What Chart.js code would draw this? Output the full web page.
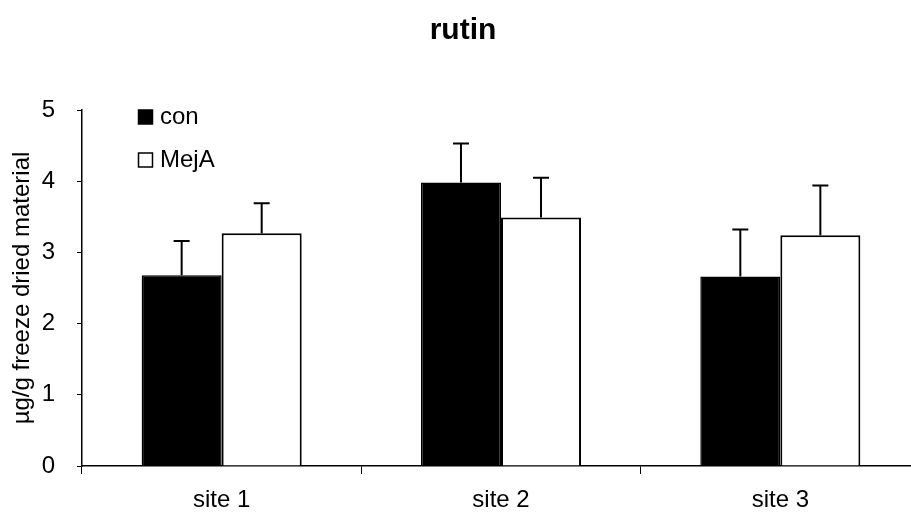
<!DOCTYPE html>
<html>
<head>
<meta charset="utf-8">
<script src="https://cdn.jsdelivr.net/npm/chart.js"></script>
<style>
  html, body { margin: 0; padding: 0; background: #fff; }
  #wrap { width: 911px; height: 512px; overflow: hidden; }
</style>
</head>
<body>
<div id="wrap"><canvas id="chart" width="925" height="512"></canvas></div>
<script>
// rutin content per site, control vs MejA
const categories = ['site 1', 'site 2', 'site 3'];
const conValues = [2.68, 3.98, 2.66];
const conErrors = [0.48, 0.55, 0.66];
const mejaValues = [3.27, 3.49, 3.24];
const mejaErrors = [0.42, 0.56, 0.70];
const seriesNames = ['con', 'MejA'];
const yTicks = [0, 1, 2, 3, 4, 5];

const FONT = '"Liberation Sans", Arial, sans-serif';

// error bars (upper only) drawn on top of each bar
const errorBars = {
    id: 'errorBars',
    afterDatasetsDraw(chart) {
        const ctx = chart.ctx;
        const yScale = chart.scales.y;
        ctx.save();
        ctx.strokeStyle = '#000';
        ctx.lineWidth = 2;
        chart.data.datasets.forEach((ds, i) => {
            const meta = chart.getDatasetMeta(i);
            meta.data.forEach((bar, j) => {
                const top = yScale.getPixelForValue(ds.data[j] + ds.errors[j]);
                ctx.beginPath();
                ctx.moveTo(bar.x, bar.y);
                ctx.lineTo(bar.x, top);
                ctx.moveTo(bar.x - 8, top);
                ctx.lineTo(bar.x + 8, top);
                ctx.stroke();
            });
        });
        ctx.restore();
    }
};

// title and the small legend in the top-left corner
const decorations = {
    id: 'decorations',
    afterDraw(chart) {
        const ctx = chart.ctx;
        ctx.save();
        ctx.fillStyle = '#000';
        ctx.font = 'bold 30px ' + FONT;
        ctx.textAlign = 'center';
        ctx.textBaseline = 'middle';
        ctx.fillText('rutin', 463, 31);

        ctx.font = '24px ' + FONT;
        ctx.textAlign = 'left';
        const rows = [117, 160];
        chart.data.datasets.forEach((ds, i) => {
            const y = rows[i];
            ctx.fillStyle = ds.backgroundColor;
            ctx.fillRect(138.5, y - 7, 14, 14);
            ctx.strokeStyle = '#000';
            ctx.lineWidth = 1.5;
            ctx.strokeRect(138.5, y - 7, 14, 14);
            ctx.fillStyle = '#000';
            ctx.fillText(ds.label, 160, y);
        });
        ctx.restore();
    }
};

new Chart(document.getElementById('chart'), {
    type: 'bar',
    data: {
        labels: categories,
        datasets: [
            {
                label: seriesNames[0],
                data: conValues,
                errors: conErrors,
                backgroundColor: '#000',
                borderColor: '#000',
                borderWidth: 1.5
            },
            {
                label: seriesNames[1],
                data: mejaValues,
                errors: mejaErrors,
                backgroundColor: '#fff',
                borderColor: '#000',
                borderWidth: 2
            }
        ]
    },
    options: {
        responsive: false,
        animation: false,
        events: [],
        categoryPercentage: 0.573,
        barPercentage: 1.0,
        layout: { padding: { top: 110, right: 5, bottom: 0, left: 0 } },
        plugins: {
            legend: { display: false },
            title: { display: false },
            tooltip: { enabled: false }
        },
        scales: {
            x: {
                offset: true,
                afterFit(scale) { scale.height = 46; },
                grid: { offset: true, drawOnChartArea: false, tickLength: 8, color: '#000', lineWidth: 1 },
                border: { color: '#000', width: 1.5 },
                ticks: { color: '#000', font: { family: FONT, size: 24 }, padding: 12 }
            },
            y: {
                min: 0,
                max: 5,
                afterBuildTicks(scale) {
                    scale.ticks = yTicks.map(v => ({ value: v }));
                },
                afterFit(scale) { scale.width = 82; },
                grid: { drawOnChartArea: false, tickLength: 5, color: '#000', lineWidth: 1 },
                border: { color: '#000', width: 1.5 },
                ticks: { color: '#000', font: { family: FONT, size: 24 }, padding: 22 },
                title: {
                    display: true,
                    text: 'µg/g freeze dried material',
                    color: '#000',
                    font: { family: FONT, size: 24 },
                    padding: { top: 8, bottom: 0 }
                }
            }
        }
    },
    plugins: [errorBars, decorations]
});
</script>
</body>
</html>
